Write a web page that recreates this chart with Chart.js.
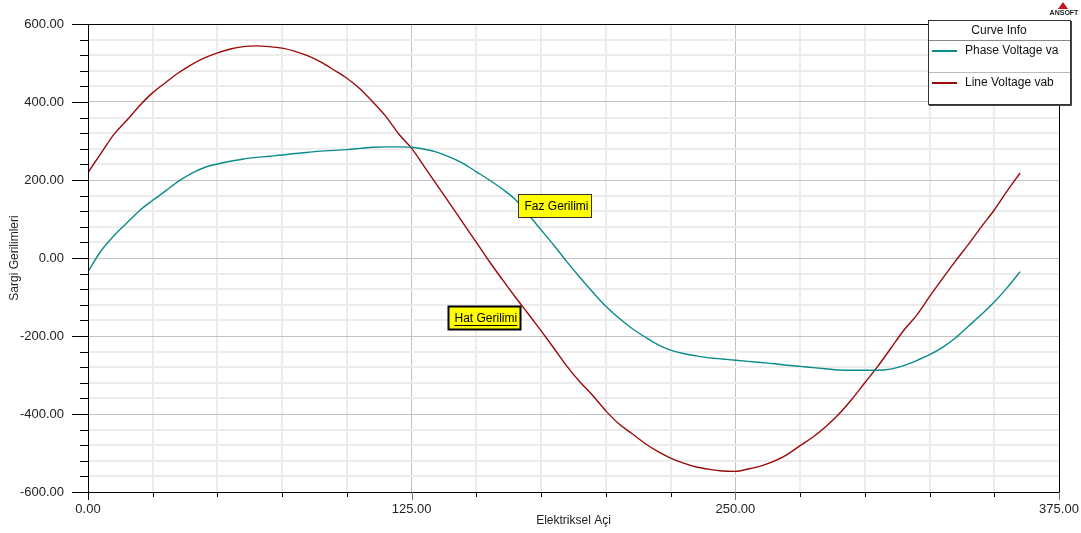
<!DOCTYPE html>
<html>
<head>
<meta charset="utf-8">
<script src="https://cdn.jsdelivr.net/npm/chart.js@4.4.0/dist/chart.umd.min.js"></script>
<style>
  html, body { margin: 0; padding: 0; background: #fff; }
  #wrap { width: 1081px; height: 533px; position: relative; }
</style>
</head>
<body>
<div id="wrap"><canvas id="chart" width="1081" height="533"></canvas></div>
<script>
// Elektriksel aci (derece)
const angles = [0, 5, 10, 15, 20, 25, 30, 35, 40, 45, 50, 55, 60, 65, 70, 75, 80, 85, 90,
    95, 100, 105, 110, 115, 120, 125, 130, 135, 140, 145, 150, 155, 160, 165, 170, 175, 180,
    185, 190, 195, 200, 205, 210, 215, 220, 225, 230, 235, 240, 245, 250, 255, 260, 265, 270,
    275, 280, 285, 290, 295, 300, 305, 310, 315, 320, 325, 330, 335, 340, 345, 350, 355, 360];

const phaseVoltage = [-35, 18, 57, 90, 122, 148, 172, 197, 217, 232, 241, 248, 254, 258, 261,
    264, 268, 271, 274, 276, 278, 281, 284, 285, 285, 284, 279, 271, 258, 242, 221, 200, 177,
    150, 112, 72, 32, -10, -50, -88, -124, -154, -180, -202, -222, -236, -245, -251, -256, -259,
    -262, -265, -268, -271, -275, -278, -281, -284, -287, -288, -288, -288, -285, -276, -263,
    -248, -229, -205, -175, -145, -113, -76, -35];

const lineVoltage = [219, 268, 317, 353, 391, 424, 450, 475, 496, 513, 526, 536, 542, 544, 542,
    538, 530, 518, 502, 482, 461, 434, 400, 363, 318, 281, 233, 185, 137, 88, 40, -9, -55, -100,
    -143, -187, -232, -278, -318, -353, -392, -425, -450, -475, -496, -513, -526, -536, -542,
    -546, -547, -541, -533, -521, -504, -481, -459, -432, -400, -362, -320, -278, -232, -186,
    -147, -99, -53, -8, 35, 80, 123, 172, 218];

const xTickLabels = [0, 125, 250, 375];
const yTickLabels = [-600, -400, -200, 0, 200, 400, 600];

const FONT = "'Liberation Sans', Arial, sans-serif";
const TEAL = '#0a8a8a';
const DARKRED = '#990a0a';

// sari etiketler: sol ust kose (veri koordinatlari)
const notes = [
    { text: 'Faz Gerilimi', x: 166, y: 163, w: 73, h: 23, bold: false },
    { text: 'Hat Gerilimi', x: 139.2, y: -122, w: 72, h: 23, bold: true }
];

const frame = {
    id: 'frame',
    afterDraw(chart) {
        const ctx = chart.ctx;
        const xs = chart.scales.x, ys = chart.scales.y;
        const L = xs.left, R = xs.right, T = ys.top, B = ys.bottom;
        ctx.save();

        // eksen cizgileri
        ctx.strokeStyle = '#000';
        ctx.lineWidth = 1;
        ctx.beginPath();
        ctx.moveTo(72, Math.round(T) + 0.5); ctx.lineTo(928, Math.round(T) + 0.5);
        ctx.moveTo(72, Math.round(B) + 0.5); ctx.lineTo(Math.round(R) + 1, Math.round(B) + 0.5);
        ctx.moveTo(Math.round(L) + 0.5, T); ctx.lineTo(Math.round(L) + 0.5, B);
        ctx.moveTo(Math.round(R) + 0.5, 104); ctx.lineTo(Math.round(R) + 0.5, B);
        ctx.stroke();

        // y tikleri
        ctx.beginPath();
        for (let v = -600; v <= 600; v += 40) {
            const py = Math.round(ys.getPixelForValue(v)) + 0.5;
            const major = v % 200 === 0;
            ctx.moveTo(major ? 72 : 80, py);
            ctx.lineTo(L, py);
        }
        ctx.stroke();

        // x tikleri
        for (let v = 0; v <= 375; v += 25) {
            const px = Math.round(xs.getPixelForValue(v)) + 0.5;
            const major = v % 125 === 0;
            ctx.strokeStyle = major && v > 0 ? '#777' : '#000';
            ctx.beginPath();
            ctx.moveTo(px, B);
            ctx.lineTo(px, B + (major ? 8 : 5));
            ctx.stroke();
        }

        // etiketler
        notes.forEach(n => {
            const bx = Math.round(xs.getPixelForValue(n.x)) + 0.5;
            const by = Math.round(ys.getPixelForValue(n.y)) + 0.5;
            ctx.fillStyle = '#ffff00';
            ctx.fillRect(bx, by, n.w, n.h);
            ctx.strokeStyle = n.bold ? '#000' : '#333';
            ctx.lineWidth = n.bold ? 2 : 1;
            ctx.strokeRect(bx, by, n.w, n.h);
            ctx.save();
            ctx.beginPath();
            ctx.rect(bx, by, n.w - 1, n.h);
            ctx.clip();
            ctx.fillStyle = '#000';
            ctx.font = '12px ' + FONT;
            ctx.textBaseline = 'middle';
            ctx.textAlign = 'left';
            ctx.fillText(n.text, bx + 6, by + n.h / 2 + 1);
            if (n.bold) {
                const tw = ctx.measureText(n.text).width;
                ctx.lineWidth = 1;
                ctx.beginPath();
                ctx.moveTo(bx + 6, by + n.h / 2 + 7.5);
                ctx.lineTo(bx + 6 + tw, by + n.h / 2 + 7.5);
                ctx.stroke();
            }
            ctx.restore();
        });

        // Curve Info kutusu
        ctx.fillStyle = '#fff';
        ctx.fillRect(928.5, 20.5, 142, 84);
        ctx.strokeStyle = '#333';
        ctx.lineWidth = 1;
        ctx.strokeRect(928.5, 20.5, 142, 84);
        ctx.strokeStyle = '#444';
        ctx.beginPath();
        ctx.moveTo(1071.5, 21); ctx.lineTo(1071.5, 105.5); ctx.lineTo(929, 105.5);
        ctx.stroke();
        ctx.strokeStyle = '#888';
        ctx.beginPath();
        ctx.moveTo(929, 40.5); ctx.lineTo(1070, 40.5);
        ctx.stroke();
        ctx.strokeStyle = '#bbb';
        ctx.beginPath();
        ctx.moveTo(929, 72.5); ctx.lineTo(1070, 72.5);
        ctx.stroke();

        ctx.fillStyle = '#111';
        ctx.font = '12px ' + FONT;
        ctx.textBaseline = 'middle';
        ctx.textAlign = 'center';
        ctx.fillText('Curve Info', 999, 31);
        ctx.textAlign = 'left';
        chart.data.datasets.forEach((ds, i) => {
            const ly = 51 + i * 32;
            ctx.strokeStyle = ds.borderColor;
            ctx.lineWidth = 2;
            ctx.beginPath();
            ctx.moveTo(932, ly); ctx.lineTo(957, ly);
            ctx.stroke();
            ctx.fillStyle = '#111';
            ctx.fillText(ds.label, 965, ly);
        });

        // ANSOFT logosu
        ctx.fillStyle = '#c0141c';
        ctx.beginPath();
        ctx.moveTo(1063, 2); ctx.lineTo(1068, 9); ctx.lineTo(1058, 9);
        ctx.closePath();
        ctx.fill();
        ctx.fillStyle = '#222';
        ctx.font = 'bold 7px ' + FONT;
        ctx.textAlign = 'center';
        ctx.fillText('ANSOFT', 1064, 13);
        ctx.restore();
    }
};

new Chart(document.getElementById('chart').getContext('2d'), {
    type: 'line',
    data: {
        datasets: [
            {
                label: 'Phase Voltage va',
                data: angles.map((a, i) => ({ x: a, y: phaseVoltage[i] })),
                borderColor: TEAL,
                borderWidth: 1.4,
                pointRadius: 0,
                cubicInterpolationMode: 'monotone',
                fill: false,
            },
            {
                label: 'Line Voltage vab',
                data: angles.map((a, i) => ({ x: a, y: lineVoltage[i] })),
                borderColor: DARKRED,
                borderWidth: 1.4,
                pointRadius: 0,
                cubicInterpolationMode: 'monotone',
                fill: false,
            },
        ],
    },
    options: {
        responsive: false,
        animation: false,
        events: [],
        layout: { padding: { top: 24, right: 22, left: 0, bottom: 0 } },
        plugins: {
            legend: { display: false },
            tooltip: { enabled: false },
        },
        scales: {
            x: {
                type: 'linear',
                min: 0,
                max: 375,
                border: { display: false },
                afterFit(s) {
                    s.height = 41;
                    s.paddingLeft = 0;
                    s.paddingRight = 0;
                },
                afterBuildTicks(s) {
                    s.ticks = [];
                    for (let v = 0; v <= 375; v += 25) s.ticks.push({ value: v });
                },
                ticks: {
                    autoSkip: false,
                    maxRotation: 0,
                    padding: 10,
                    color: '#222',
                    font: { family: FONT, size: 13 },
                    callback: v => xTickLabels.includes(v) ? v.toFixed(2) : '',
                },
                grid: {
                    drawTicks: false,
                    color: c => c.tick && c.tick.value % 125 === 0 ? '#c2c2c2' : '#ececec',
                    lineWidth: c => c.tick && c.tick.value % 125 === 0 ? 1 : 2,
                },
                title: {
                    display: true,
                    text: 'Elektriksel Açi',
                    color: '#222',
                    font: { family: FONT, size: 12 },
                    padding: { top: 5, bottom: 5 },
                },
            },
            y: {
                type: 'linear',
                min: -600,
                max: 600,
                border: { display: false },
                afterFit(s) {
                    s.width = 88;
                    s.paddingTop = 0;
                    s.paddingBottom = 0;
                },
                afterBuildTicks(s) {
                    s.ticks = [];
                    for (let v = -600; v <= 600; v += 40) s.ticks.push({ value: v });
                },
                ticks: {
                    autoSkip: false,
                    padding: 24,
                    color: '#222',
                    font: { family: FONT, size: 13 },
                    callback: v => yTickLabels.includes(v) ? v.toFixed(2) : '',
                },
                grid: {
                    drawTicks: false,
                    color: c => c.tick && c.tick.value % 200 === 0 ? '#c2c2c2' : '#ececec',
                    lineWidth: c => c.tick && c.tick.value % 200 === 0 ? 1 : 2,
                },
                title: {
                    display: true,
                    text: 'Sargi Gerilimleri',
                    color: '#222',
                    font: { family: FONT, size: 12 },
                    padding: { top: 7, bottom: 7 },
                },
            },
        },
    },
    plugins: [frame],
});
</script>
</body>
</html>
